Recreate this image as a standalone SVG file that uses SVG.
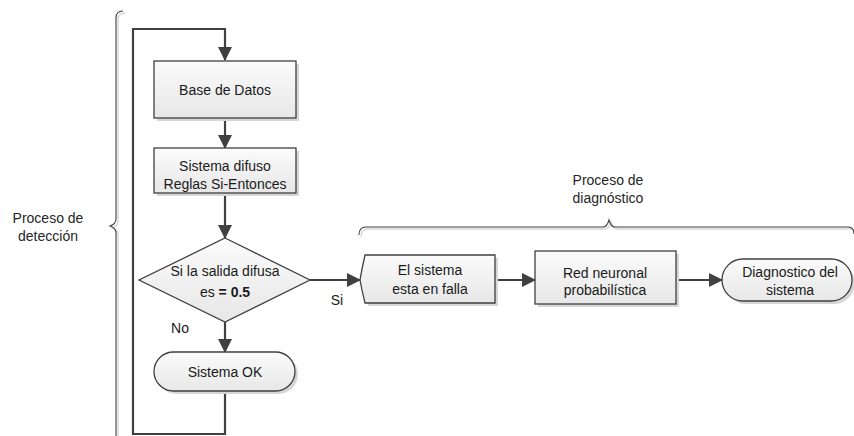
<svg xmlns="http://www.w3.org/2000/svg" width="854" height="436" viewBox="0 0 854 436">
<defs>
<linearGradient id="g" x1="0" y1="0" x2="0" y2="1">
<stop offset="0" stop-color="#fbfbfb"/>
<stop offset="1" stop-color="#e7e7e7"/>
</linearGradient>
<marker id="ah" viewBox="0 0 14 14" markerWidth="14" markerHeight="14" refX="13" refY="7" orient="auto" markerUnits="userSpaceOnUse">
<path d="M0,0 L14,7 L0,14 Z" fill="#404040"/>
</marker>
</defs>
<style>
.shape{fill:url(#g);stroke:#404040;stroke-width:1.3}
.shadow{fill:#d6d6d6;stroke:none}
.conn{fill:none;stroke:#404040;stroke-width:2.2}
.brace{fill:none;stroke:#404040;stroke-width:1.1}
.bshadow{fill:none;stroke:#d8d8d8;stroke-width:1.5}
text{font-family:"Liberation Sans",Arial,sans-serif;font-size:14px;fill:#1a1a1a;text-anchor:middle}
.lbl{fill:#262626}
.b{font-weight:bold}
</style>
<rect width="854" height="436" fill="#ffffff"/>

<g id="brace-deteccion">
<path class="bshadow" d="M125,13 Q118,13 118,20 V221 Q118,226 112,228 Q118,230 118,235 V440"/>
<path class="brace" d="M123,11 Q116,11 116,18 V219 Q116,224 110,226 Q116,228 116,233 V440"/>
<text class="lbl" x="48" y="223">Proceso de</text>
<text class="lbl" x="48" y="241">detección</text>
</g>

<g id="brace-diagnostico">
<path class="bshadow" d="M361,237 Q361,229 368,229 H605 Q609,229 611,222 Q613,229 617,229 H850 Q856,229 856,236"/>
<path class="brace" d="M359,235 Q359,227 366,227 H603 Q607,227 609,220 Q611,227 615,227 H848 Q854,227 854,234"/>
<text class="lbl" x="608" y="185">Proceso de</text>
<text class="lbl" x="608" y="203">diagnóstico</text>
</g>

<g id="connectors">
<path class="conn" d="M225,391 V434 H133 V29 H225 V60" marker-end="url(#ah)"/>
<path class="conn" d="M225,118 V148" marker-end="url(#ah)"/>
<path class="conn" d="M225,193 V238" marker-end="url(#ah)"/>
<path class="conn" d="M225,322 V352" marker-end="url(#ah)"/>
<path class="conn" d="M310,280 H360" marker-end="url(#ah)"/>
<path class="conn" d="M495,280 H535" marker-end="url(#ah)"/>
<path class="conn" d="M676,280 H722" marker-end="url(#ah)"/>
<text x="337" y="305">Si</text>
<text x="180" y="333">No</text>
</g>

<g id="base-datos">
<rect class="shadow" x="157" y="64" width="142" height="57"/>
<rect class="shape" x="154" y="61" width="142" height="57"/>
<text x="225" y="95">Base de Datos</text>
</g>

<g id="sistema-difuso">
<rect class="shadow" x="157" y="151" width="142" height="45"/>
<rect class="shape" x="154" y="148" width="142" height="45"/>
<text x="225" y="171">Sistema difuso</text>
<text x="225" y="189">Reglas Si-Entonces</text>
</g>

<g id="decision">
<path class="shape" d="M225,238 L310,280 L225,322 L139,280 Z"/>
<text x="225" y="276">Si la salida difusa</text>
<text x="225" y="297">es <tspan class="b">= 0.5</tspan></text>
</g>

<g id="sistema-ok">
<rect class="shadow" x="157" y="355" width="141" height="39" rx="19.5"/>
<rect class="shape" x="154" y="352" width="141" height="39" rx="19.5"/>
<text x="225" y="377">Sistema OK</text>
</g>

<g id="sistema-falla">
<path class="shadow" d="M368,258 L498,258 L498,306 L368,306 Q365,293 363,283 Q365,271 368,258 Z"/>
<path class="shape" d="M365,255 L495,255 L495,303 L365,303 Q362,291 360,280 Q362,268 365,255 Z"/>
<text x="430" y="275">El sistema</text>
<text x="430" y="294">esta en falla</text>
</g>

<g id="red-neuronal">
<rect class="shadow" x="538" y="254" width="141" height="53"/>
<rect class="shape" x="535" y="251" width="141" height="53"/>
<text x="605" y="278">Red neuronal</text>
<text x="605" y="295">probabilística</text>
</g>

<g id="diagnostico">
<rect class="shadow" x="725" y="262" width="130" height="42" rx="21"/>
<rect class="shape" x="722" y="259" width="130" height="42" rx="21"/>
<text x="790" y="277">Diagnostico del</text>
<text x="790" y="295">sistema</text>
</g>
</svg>
